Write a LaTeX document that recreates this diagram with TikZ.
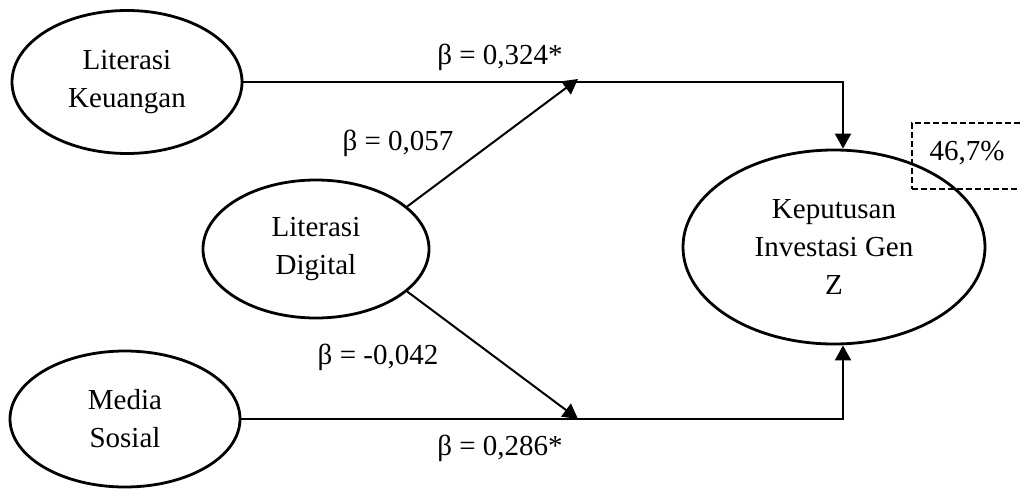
\documentclass[tikz,border=0pt]{standalone}
\usepackage{fontspec}
\setmainfont{Liberation Serif}
\usetikzlibrary{shapes.geometric, arrows.meta}
\tikzset{
  pd/.style={font=\fontsize{29}{38}\selectfont, line width=2pt, x=1pt, y=-1pt},
  var/.style={draw, ellipse, line width=2.8pt, inner sep=0pt, align=center},
  arr/.style={-{Triangle[length=15pt, width=16pt]}},
  lbl/.style={inner sep=0pt},
  rsq/.style={draw, dashed, dash pattern=on 6pt off 3pt, line width=2pt, minimum width=120pt, minimum height=66pt, inner sep=0pt},
}

\begin{document}
\begin{tikzpicture}[
  pd,
]
\useasboundingbox (0,0) rectangle (1020,490);

\node[var, minimum width=230pt, minimum height=143pt] (lk) at (127,82) {Literasi\\Keuangan};
\node[var, minimum width=226pt, minimum height=138pt] (ld) at (316,249) {Literasi\\Digital};
\node[var, minimum width=230pt, minimum height=136pt] (ms) at (125,419) {Media\\Sosial};
\node[var, minimum width=302pt, minimum height=194pt] (kig) at (834,247) {Keputusan\\Investasi Gen\\Z};

\coordinate (tipA) at (578,79);
\coordinate (tipB) at (578,419);

\draw[arr] (lk.east) -| ([xshift=9pt]kig.north);
\draw[arr] (ms.east) -| ([xshift=9pt]kig.south);
\draw[arr] (ld.25) -- (tipA);
\draw[arr] (ld.-25) -- (tipB);

\node[lbl] (b1) at (500,57) {β = 0,324*};
\node[lbl] (b2) at (398,143) {β = 0,057};
\node[lbl] (b3) at (378,357) {β = -0,042};
\node[lbl] (b4) at (500,448) {β = 0,286*};

\node[rsq, anchor=north west] (r2) at (911,122) {};
\node[lbl] (r2txt) at (967,153) {46,7\%};
\end{tikzpicture}
\end{document}
